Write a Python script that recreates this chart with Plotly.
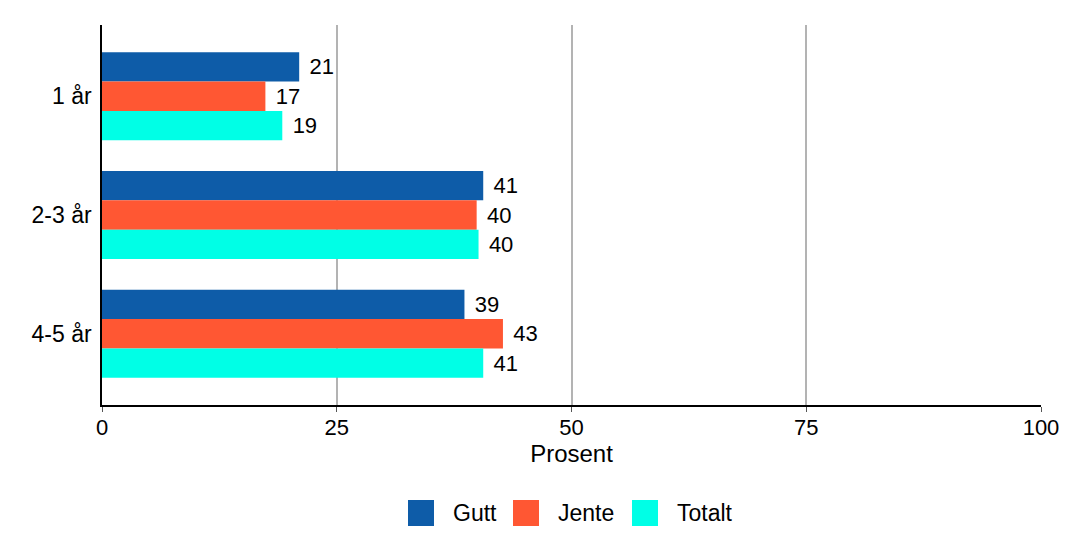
import plotly.graph_objects as go

categories = ["1 år", "2-3 år", "4-5 år"]
gutt = [21.0, 40.6, 38.6]
jente = [17.4, 39.9, 42.7]
totalt = [19.2, 40.1, 40.6]
series_names = ["Gutt", "Jente", "Totalt"]
colors = ["#0E5CA8", "#FF5733", "#00FFE6"]
x_ticks = [0, 25, 50, 75, 100]

FONT = "Liberation Sans, Arial, sans-serif"
FS = 23
OFF = 8  # default page body margin
W, H = 1069 - OFF, 538 - OFF
L, R, T, B = 102 - OFF, 28, 25 - OFF, 133
pw, ph = W - L - R, H - T - B

fig = go.Figure()
for name, vals, col in zip(series_names, [gutt, jente, totalt], colors):
    fig.add_trace(go.Bar(
        y=categories, x=vals, name=name, orientation="h",
        marker=dict(color=col, line=dict(width=0)),
        text=["\u2004" + f"{v:.0f}" for v in vals], textposition="outside",
        constraintext="none",
        textfont=dict(size=FS - 1, color="black", family=FONT), cliponaxis=False,
        showlegend=False,
    ))

# custom legend (large square keys), positions given in page pixels
def px2x(px):
    return (px - OFF - L) / pw

def py2y(py):
    return (OFF + H - B - py) / ph

shapes = []
annotations = []
key_left = [408, 513, 632]
for name, col, kx in zip(series_names, colors, key_left):
    shapes.append(dict(type="rect", xref="paper", yref="paper",
                       x0=px2x(kx), x1=px2x(kx + 26), y0=py2y(526), y1=py2y(500),
                       fillcolor=col, line=dict(width=0)))
    annotations.append(dict(xref="paper", yref="paper", x=px2x(kx + 43), y=py2y(513),
                            text=name, showarrow=False, xanchor="left", yanchor="middle",
                            font=dict(size=FS, family=FONT, color="black")))

fig.update_layout(
    width=W, height=H,
    margin=dict(l=L, r=R, t=T, b=B, autoexpand=False),
    barmode="group", bargap=0.26, bargroupgap=0,
    plot_bgcolor="white", paper_bgcolor="white",
    font=dict(family=FONT, size=FS, color="black"),
    showlegend=False,
    shapes=shapes, annotations=annotations,
)
fig.update_xaxes(range=[0, 100], tickvals=x_ticks, showgrid=True, gridcolor="#b3b3b3",
                 gridwidth=1.5, zeroline=False, showline=True, linecolor="black", linewidth=1.5,
                 ticks="outside", ticklen=5, tickcolor="#555", automargin=False,
                 ticklabelstandoff=-3,
                 title=dict(text="Prosent", standoff=4, font=dict(size=FS + 1)),
                 tickfont=dict(size=FS - 1))
fig.update_yaxes(autorange=False, range=[2.6, -0.6], showgrid=False, showline=True,
                 linecolor="black", linewidth=1.5, ticks="", ticklabelstandoff=4,
                 automargin=False, tickfont=dict(size=FS))
fig.write_html("out.html")
